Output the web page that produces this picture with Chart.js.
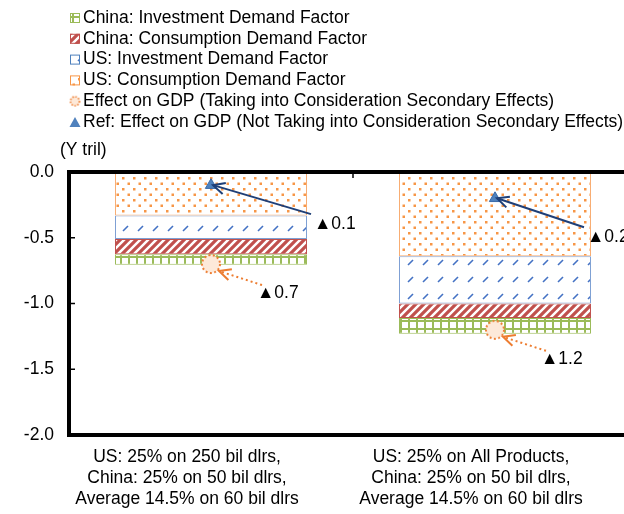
<!DOCTYPE html>
<html>
<head>
<meta charset="utf-8">
<script src="https://cdn.jsdelivr.net/npm/chart.js"></script>
<style>
  body { margin: 0; overflow: hidden; background: #fff; }
</style>
</head>
<body>
<canvas id="myChart" width="648" height="514"></canvas>
<script>
// tariff scenarios, effect on GDP in trillion yen (negative = decrease)
const categories = [
  ['US: 25% on 250 bil dlrs,', 'China: 25% on 50 bil dlrs,', 'Average 14.5% on 60 bil dlrs'],
  ['US: 25% on All Products,', 'China: 25% on 50 bil dlrs,', 'Average 14.5% on 60 bil dlrs']
];
const usConsumption = [-0.33, -0.64];
const usInvestment = [-0.18, -0.36];
const chinaConsumption = [-0.115, -0.11];
const chinaInvestment = [-0.08, -0.12];
const gdpEffect = [-0.7, -1.2];   // with secondary effects
const refEffect = [-0.1, -0.2];   // without secondary effects
const yTicks = [0, -0.5, -1.0, -1.5, -2.0];

const FONT = '"Liberation Sans", Arial, sans-serif';
const canvas = document.getElementById('myChart');
const ctx = canvas.getContext('2d');

// small tiles for the hatch fills
function tile(w, h, paint) {
  const c = document.createElement('canvas');
  c.width = w; c.height = h;
  const g = c.getContext('2d');
  g.fillStyle = '#fff';
  g.fillRect(0, 0, w, h);
  paint(g);
  return ctx.createPattern(c, 'repeat');
}

const dots = tile(11, 11, g => {
  g.fillStyle = '#F79646';
  g.fillRect(1, 1, 2.5, 2.5);
  g.fillRect(6.5, 6.5, 2.5, 2.5);
});
const dashes = tile(15, 17, g => {
  g.strokeStyle = '#4472C4';
  g.lineWidth = 1.6;
  g.beginPath();
  g.moveTo(3, 10); g.lineTo(8, 5);
  g.stroke();
});
const stripes = tile(8, 8, g => {
  g.strokeStyle = '#C0504D';
  g.lineWidth = 3.2;
  g.beginPath();
  g.moveTo(-2, 10); g.lineTo(10, -2);
  g.moveTo(-2, 2); g.lineTo(2, -2);
  g.moveTo(6, 10); g.lineTo(10, 6);
  g.stroke();
});
const grid = tile(8, 8, g => {
  g.fillStyle = '#9BBB59';
  g.fillRect(0, 0, 8, 8);
  g.fillStyle = '#fff';
  g.fillRect(2, 2, 6, 6);
});

function dottedCircle(r, dash, lw) {
  const c = document.createElement('canvas');
  const s = Math.ceil(r * 2 + lw + 2);
  c.width = s; c.height = s;
  const g = c.getContext('2d');
  g.beginPath();
  g.arc(s / 2, s / 2, r, 0, Math.PI * 2);
  g.fillStyle = '#FDE9D9';
  g.fill();
  g.setLineDash(dash);
  g.lineWidth = lw;
  g.strokeStyle = '#ED7D31';
  g.stroke();
  return c;
}
const bigCircle = dottedCircle(9, [2, 2.4], 2);
const smallCircle = dottedCircle(4.5, [1.5, 1.5], 1.6);

function arrow(c, x1, y1, x2, y2, color, dash) {
  c.save();
  c.strokeStyle = color;
  c.lineWidth = 2;
  c.setLineDash(dash);
  c.beginPath();
  c.moveTo(x1, y1); c.lineTo(x2, y2);
  c.stroke();
  c.setLineDash([]);
  const a = Math.atan2(y1 - y2, x1 - x2);
  c.beginPath();
  c.moveTo(x2 + 13 * Math.cos(a + 0.45), y2 + 13 * Math.sin(a + 0.45));
  c.lineTo(x2, y2);
  c.lineTo(x2 + 13 * Math.cos(a - 0.45), y2 + 13 * Math.sin(a - 0.45));
  c.stroke();
  c.restore();
}

// legend rows, top to bottom
const legendItems = [
  { text: 'China: Investment Demand Factor', fill: grid, border: '#9BBB59' },
  { text: 'China: Consumption Demand Factor', fill: stripes, border: '#C0504D' },
  { text: 'US: Investment Demand Factor', fill: dashes, border: '#4F81BD' },
  { text: 'US: Consumption Demand Factor', fill: dots, border: '#F79646' },
  { text: 'Effect on GDP (Taking into Consideration Secondary Effects)', icon: 'circle' },
  { text: 'Ref: Effect on GDP (Not Taking into Consideration Secondary Effects)', icon: 'triangle' }
];

const legendPlugin = {
  id: 'sideLegend',
  afterDraw(chart) {
    const c = chart.ctx;
    c.save();
    c.font = '17.5px ' + FONT;
    c.textBaseline = 'middle';
    legendItems.forEach((it, i) => {
      const yy = 18 + i * 20.8;
      if (it.icon === 'circle') {
        c.drawImage(smallCircle, 75 - smallCircle.width / 2, yy - smallCircle.height / 2);
      } else if (it.icon === 'triangle') {
        c.fillStyle = '#4F81BD';
        c.beginPath();
        c.moveTo(75, yy - 5); c.lineTo(80.5, yy + 5); c.lineTo(69.5, yy + 5);
        c.closePath();
        c.fill();
      } else {
        c.fillStyle = it.fill;
        c.fillRect(70, yy - 5, 10, 10);
        c.strokeStyle = it.border;
        c.lineWidth = 1;
        c.strokeRect(70.5, yy - 4.5, 9, 9);
      }
      c.fillStyle = '#000';
      c.fillText(it.text, 83, yy);
    });
    c.fillText('(Y tril)', 60, 150);
    c.restore();
  }
};

// where the "without secondary effects" notes sit, right of each point
const noteDx = [103, 92];

// axis frame, inward ticks, value notes and arrows
const framePlugin = {
  id: 'frame',
  afterDatasetsDraw(chart) {
    const c = chart.ctx;
    const a = chart.chartArea;
    const xs = chart.scales.x, ys = chart.scales.y;
    c.save();
    c.strokeStyle = '#000';
    c.lineWidth = 1.5;
    c.beginPath();
    yTicks.slice(1, -1).forEach(v => {
      const p = ys.getPixelForValue(v);
      c.moveTo(a.left, p); c.lineTo(a.left + 6, p);
    });
    const mid = (xs.getPixelForValue(0) + xs.getPixelForValue(1)) / 2;
    c.moveTo(mid, a.top); c.lineTo(mid, a.top + 6);
    c.stroke();
    c.lineWidth = 4;
    c.strokeRect(a.left, a.top, a.right - a.left, a.bottom - a.top);

    c.font = '17.5px ' + FONT;
    c.textBaseline = 'middle';
    c.fillStyle = '#000';
    for (let i = 0; i < categories.length; i++) {
      const cx = xs.getPixelForValue(i);
      const ty = ys.getPixelForValue(refEffect[i]);
      const lx = cx + noteDx[i], ly = ty + 39;
      c.fillText('▲' + Math.abs(refEffect[i]).toFixed(1), lx, ly);
      arrow(c, lx - 3, ly - 10, cx + 2, ty, '#1F3F77', []);

      const gy = ys.getPixelForValue(gdpEffect[i]);
      const gx = cx + 46, gly = gy + 29;
      c.fillText('▲' + Math.abs(gdpEffect[i]).toFixed(1), gx, gly);
      arrow(c, gx + 5, gly - 8, cx + 8, gy + 7, '#ED7D31', [2, 3]);
    }
    c.restore();
  }
};

function chartIt() {
  const barBase = {
    type: 'bar',
    stack: 'bars',
    order: 1,
    borderWidth: 1,
    borderSkipped: false,
    barPercentage: 0.676,
    categoryPercentage: 1
  };
  const data = {
    labels: categories,
    datasets: [
      { type: 'line', label: 'Ref: Effect on GDP (Not Taking into Consideration Secondary Effects)',
        data: refEffect, stack: 'ref', order: 0, showLine: false,
        pointStyle: 'triangle', pointRadius: 6.5, backgroundColor: '#4F81BD',
        borderColor: '#3A6AA8', borderWidth: 1 },
      { type: 'line', label: 'Effect on GDP (Taking into Consideration Secondary Effects)',
        data: gdpEffect, stack: 'gdp', order: 0, showLine: false,
        pointStyle: bigCircle, pointRadius: 10 },
      Object.assign({ label: 'US: Consumption Demand Factor', data: usConsumption,
        backgroundColor: dots, borderColor: '#F8AD72' }, barBase),
      Object.assign({ label: 'US: Investment Demand Factor', data: usInvestment,
        backgroundColor: dashes, borderColor: '#7EA0D4' }, barBase),
      Object.assign({ label: 'China: Consumption Demand Factor', data: chinaConsumption,
        backgroundColor: stripes, borderColor: '#C0504D' }, barBase),
      Object.assign({ label: 'China: Investment Demand Factor', data: chinaInvestment,
        backgroundColor: grid, borderColor: '#9BBB59' }, barBase)
    ]
  };

  const config = {
    type: 'bar',
    data: data,
    options: {
      responsive: false,
      animation: false,
      layout: { padding: { top: 172, left: 0, right: 3, bottom: 0 } },
      plugins: { legend: { display: false }, tooltip: { enabled: false } },
      scales: {
        x: {
          stacked: true,
          grid: { display: false, drawTicks: false },
          border: { display: false },
          ticks: {
            color: '#000',
            font: { family: FONT, size: 17.5, lineHeight: 1.2 },
            padding: 12,
            labelOffset: -24,
            maxRotation: 0,
            autoSkip: false
          },
          afterFit: s => { s.height = 79; }
        },
        y: {
          stacked: true,
          min: -2,
          max: 0,
          grid: { display: false, drawTicks: false },
          border: { display: false },
          ticks: {
            stepSize: 0.5,
            color: '#000',
            padding: 15,
            font: { family: FONT, size: 17.5 },
            callback: v => v.toFixed(1)
          },
          afterFit: s => { s.width = 69; }
        }
      }
    },
    plugins: [framePlugin, legendPlugin]
  };
  new Chart(ctx, config);
}

chartIt();
</script>
</body>
</html>
